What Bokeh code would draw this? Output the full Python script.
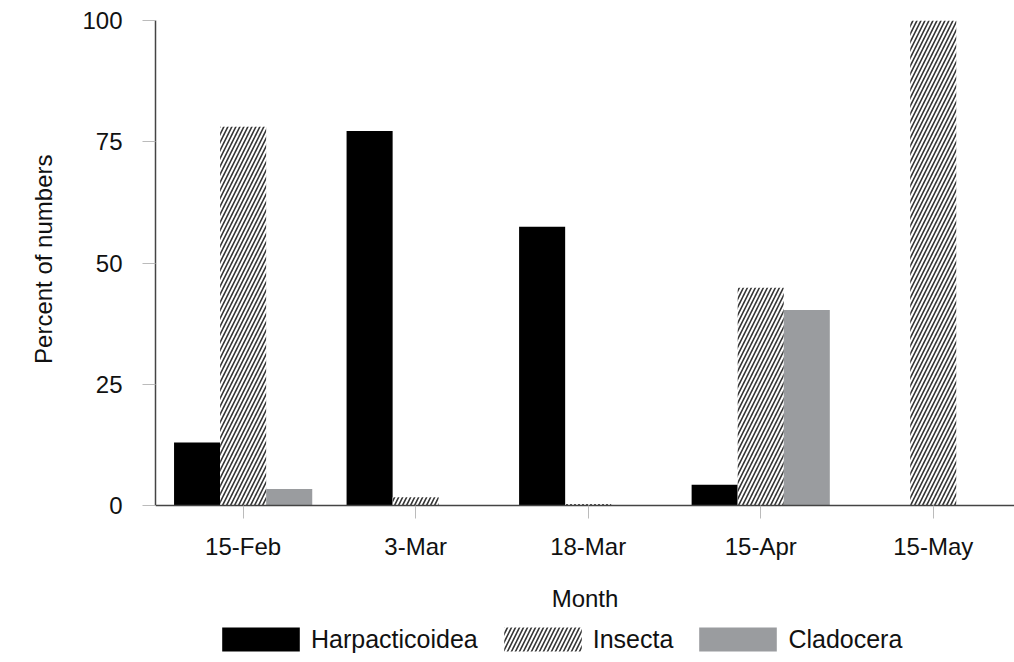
from bokeh.plotting import figure
from bokeh.models import Range1d, FixedTicker, Legend, LegendItem, ColumnDataSource, LinearAxis, Title
from bokeh.embed import file_html
from bokeh.resources import INLINE

months = ["15-Feb", "3-Mar", "18-Mar", "15-Apr", "15-May"]
harpacticoidea = [13.0, 77.2, 57.5, 4.3, 0.0]
insecta = [78.1, 1.7, 0.3, 44.9, 100.0]
cladocera = [3.4, 0.0, 0.0, 40.3, 0.0]
y_ticks = [0, 25, 50, 75, 100]

FONT = "Liberation Sans"
BW = 0.267
idx = list(range(len(months)))

p = figure(width=1014, height=662, output_backend="svg", toolbar_location=None,
           x_range=Range1d(-0.508, 4.471), y_range=Range1d(-32.37, 100),
           x_axis_location=None,
           min_border_left=155, min_border_top=20, min_border_bottom=0, min_border_right=0)
p.outline_line_color = None
p.xgrid.visible = False
p.ygrid.visible = False
p.background_fill_color = "white"
p.border_fill_color = "white"

src = ColumnDataSource(dict(
    xh=[i - BW for i in idx], xi=[i for i in idx], xc=[i + BW for i in idx],
    h=harpacticoidea, ins=insecta, c=cladocera))

r1 = p.vbar(x="xh", top="h", width=BW, source=src, fill_color="black", line_color=None)
r2 = p.vbar(x="xi", top="ins", width=BW, source=src, fill_color="white", line_color=None,
            hatch_pattern="/", hatch_color="#333333", hatch_scale=8, hatch_weight=1.6)
r3 = p.vbar(x="xc", top="c", width=BW, source=src, fill_color="#9a9c9f", line_color=None)

xaxis = LinearAxis(fixed_location=0, ticker=FixedTicker(ticks=idx),
                   major_label_overrides={i: m for i, m in zip(idx, months)})
p.add_layout(xaxis, "below")

p.yaxis.ticker = FixedTicker(ticks=y_ticks)
p.yaxis.bounds = (0, 100)
for ax in (xaxis, p.yaxis[0]):
    ax.axis_line_color = "#444444"
    ax.axis_line_width = 1.5
    ax.major_tick_line_color = "#bbbbbb"
    ax.major_tick_line_width = 1
    ax.major_tick_in = 0
    ax.major_tick_out = 13
    ax.minor_tick_line_color = None
    ax.major_label_text_font = FONT
    ax.major_label_text_font_size = "24px"
    ax.major_label_text_color = "#111111"
    ax.axis_label_text_font = FONT
    ax.axis_label_text_font_size = "24px"
    ax.axis_label_text_font_style = "normal"
    ax.axis_label_text_color = "#111111"

xaxis.axis_label = "Month"
xaxis.major_label_standoff = 14
xaxis.axis_label_standoff = 22
p.yaxis.major_label_standoff = 20

ytitle = Title(text="Percent of numbers", align="right", offset=134, standoff=46,
               text_font=FONT, text_font_size="24px", text_font_style="normal",
               text_color="#111111")
p.add_layout(ytitle, "left")

legend = Legend(items=[LegendItem(label="Harpacticoidea", renderers=[r1]),
                       LegendItem(label="Insecta", renderers=[r2]),
                       LegendItem(label="Cladocera", renderers=[r3])],
                orientation="horizontal", location=(57, 8),
                glyph_width=97, glyph_height=30, label_standoff=2, spacing=16,
                padding=0, margin=0, border_line_color=None, background_fill_alpha=0,
                label_text_font=FONT, label_text_font_size="25px", label_text_color="#111111")
p.add_layout(legend, "center")

open("out.html", "w").write(file_html(p, INLINE))
